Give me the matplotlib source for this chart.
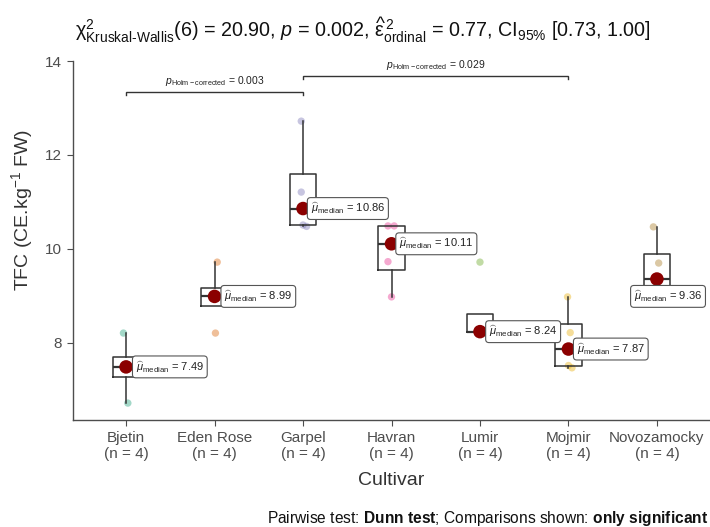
import matplotlib
matplotlib.use("Agg")
import matplotlib.pyplot as plt
import numpy as np

plt.rcParams["font.family"] = ["Liberation Sans", "DejaVu Sans"]
plt.rcParams["mathtext.fontset"] = "custom"
plt.rcParams["mathtext.rm"] = "Liberation Sans"
plt.rcParams["mathtext.it"] = "Liberation Sans:italic"
plt.rcParams["mathtext.bf"] = "Liberation Sans:bold"
plt.rcParams["mathtext.sf"] = "Liberation Sans"

# ---- data ----
cultivars = ["Bjetin", "Eden Rose", "Garpel", "Havran", "Lumir", "Mojmir", "Novozamocky"]
bjetin = [6.72, 7.45, 7.53, 8.21]
eden_rose = [8.21, 8.99, 8.99, 9.72]
garpel = [10.48, 10.51, 11.21, 12.72]
havran = [8.98, 9.73, 10.49, 10.49]
lumir = [8.22, 8.24, 8.24, 9.72]
mojmir = [7.47, 7.52, 8.22, 8.98]
novozamocky = [9.00, 9.02, 9.70, 10.47]
groups = [bjetin, eden_rose, garpel, havran, lumir, mojmir, novozamocky]

# significant pairwise comparisons (group index pairs, p value)
pairs = [(0, 2), (2, 5)]
pair_p = ["0.003", "0.029"]
pair_y = [13.34, 13.68]

title_stats = (r"$\mathrm{\chi}^2_{\mathrm{Kruskal\text{-}Wallis}}$(6) = 20.90, $\mathit{p}$ = 0.002, "
               r"$\widehat{\mathrm{\varepsilon}}^{\,2}_{\mathrm{ordinal}}$ = 0.77, CI$_{95\%}$ [0.73, 1.00]")

# ---- style ----
PALETTE = ["#1B9E77", "#D95F02", "#7570B3", "#E7298A", "#66A61E", "#E6AB02", "#A6761D"]
# small horizontal jitter (fraction of category spacing) for the raw points
JITTER = [[0.02, 0.0, 0.0, -0.03],
          [0.01, 0.0, 0.0, 0.03],
          [0.04, 0.0, -0.02, -0.02],
          [0.0, -0.04, -0.04, 0.03],
          [0.0, 0.0, 0.0, 0.0],
          [0.04, 0.0, 0.02, -0.01],
          [0.0, 0.0, 0.02, -0.04]]
LABEL_OFFSETS = [(7, 0, "left"), (7, 0, "left"), (5.5, 0, "left"), (5.5, 0, "left"),
                 (6.5, 0, "left"), (6, 0, "left"), (8, -12.5, "center")]
GRAY = "#4D4D4D"
BOX = "#333333"

fig = plt.figure(figsize=(7.1, 5.27), dpi=100)
ax = fig.add_axes([73 / 710, 1 - 420 / 527, 637 / 710, 359 / 527])

positions = np.arange(1, len(cultivars) + 1)

# raw points
for i, vals in enumerate(groups):
    xs = positions[i] + np.array(JITTER[i])
    ax.scatter(xs, vals, s=28, color=PALETTE[i], alpha=0.4, edgecolors="none", zorder=2)

# boxplots
ax.boxplot(groups, positions=positions, widths=0.3, showfliers=False,
           boxprops=dict(color=BOX, linewidth=1.1),
           whiskerprops=dict(color=BOX, linewidth=1.1),
           capprops=dict(linewidth=0),
           medianprops=dict(color=BOX, linewidth=1.6),
           zorder=3)

# medians + labels
medians = [np.median(v) for v in groups]
ax.scatter(positions, medians, s=95, color="#8B0000", zorder=5, edgecolors="none")
for i, m in enumerate(medians):
    dx, dy, ha = LABEL_OFFSETS[i]
    ax.annotate(r"$\widehat{\mu}_{\mathrm{median}}$" + f" = {m:.2f}",
                xy=(positions[i], m), xytext=(dx, dy), textcoords="offset points",
                ha=ha, va="center", fontsize=8, color="#222222", zorder=6,
                bbox=dict(boxstyle="round,pad=0.3,rounding_size=0.3", fc="white",
                          ec="#555555", lw=0.8))

# significance brackets
for (a, b), p, y in zip(pairs, pair_p, pair_y):
    xa, xb = positions[a], positions[b]
    ax.plot([xa, xa, xb, xb], [y - 0.06, y, y, y - 0.06], color=BOX, lw=1.0,
            solid_joinstyle="miter", zorder=4)
    ax.text((xa + xb) / 2, y + 0.08, r"$\mathit{p}_{\mathrm{Holm-corrected}}$" + f" = {p}",
            ha="center", va="bottom", fontsize=7.5, color="#222222")

ax.set_xlim(0.4, 7.6)
ax.set_ylim(6.36, 14.0)
ax.set_yticks([8, 10, 12, 14])
ax.set_xticks(positions)
ax.set_xticklabels([f"{c}\n(n = {len(v)})" for c, v in zip(cultivars, groups)])
ax.tick_params(colors=GRAY, labelsize=11, length=4, width=0.8, labelcolor=GRAY, pad=4)
for side in ["top", "right"]:
    ax.spines[side].set_visible(False)
for side in ["left", "bottom"]:
    ax.spines[side].set_color(GRAY)
    ax.spines[side].set_linewidth(1.0)

ax.set_xlabel("Cultivar", fontsize=14, color="#333333", labelpad=8)
ax.set_ylabel(r"TFC (CE.kg$^{-1}$ FW)", fontsize=14, color="#333333")
ax.yaxis.set_label_coords(-0.06, 0.585)

fig.text(363 / 710, 1 - 30 / 527, title_stats, ha="center", va="center",
         fontsize=14.2, color="#111111")
fig.text(708 / 710, 1 - 519 / 527,
         r"Pairwise test: $\mathbf{Dunn\ test}$; Comparisons shown: $\mathbf{only\ significant}$",
         ha="right", va="center", fontsize=11.2, color="#111111")

fig.savefig("out.png", dpi=100)
